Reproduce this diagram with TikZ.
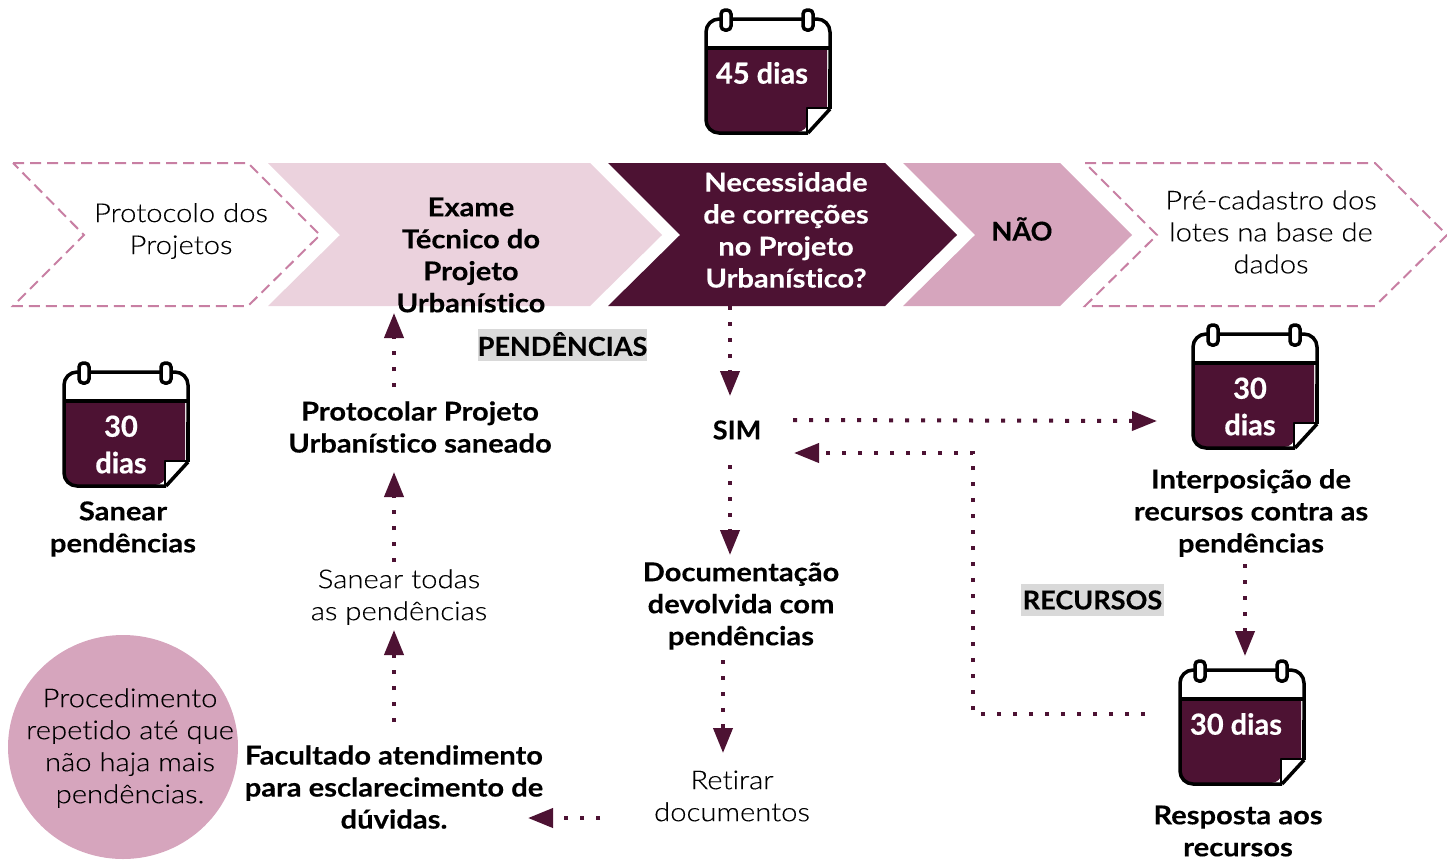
\documentclass[tikz,border=0pt]{standalone}
\usepackage{fontspec}
\setmainfont{Lato}[BoldFont={Lato Bold},BoldFeatures={FakeStretch=1.12,FakeBold=0.25},Ligatures=NoCommon]
\newfontfamily\lightf{Lato Light}[FakeStretch=1.125,FakeBold=0.2,Ligatures=NoCommon]
\newfontfamily\calf{Lato Bold}[FakeStretch=1.0,FakeBold=0.6]
\newfontfamily\tagf{Lato Bold}[FakeStretch=1.04,FakeBold=0.25]
\usetikzlibrary{arrows.meta}
\definecolor{wine}{HTML}{4D1233}
\definecolor{rosea}{HTML}{EBD2DD}
\definecolor{roseb}{HTML}{D6A5BD}
\definecolor{rosed}{HTML}{C87FA3}
\definecolor{lab}{HTML}{D9D9D9}
\tikzset{
  x=1pt,y=-1pt,
  btext/.style={align=center,inner sep=0pt,font=\fontsize{26}{32}\selectfont\bfseries,text=black},
  ltext/.style={align=center,inner sep=0pt,font=\fontsize{26}{32}\selectfont\lightf,text=black},
  tagtext/.style={align=center,inner sep=0pt,font=\fontsize{26}{32}\selectfont\tagf,text=black},
  caltext/.style={align=center,inner sep=0pt,font=\fontsize{29}{36.5}\selectfont\calf,text=white},
  chevdash/.style={draw=rosed,line width=2pt,dash pattern=on 11pt off 6pt,fill=white},
  conn/.style={draw=wine,line width=4pt,dash pattern=on 4pt off 12pt,-{Triangle[length=25pt,width=19pt,fill=wine]}},
  pics/calendar/.style={code={
    \fill[wine,rounded corners=11pt] (1,30) -- (1,113) -- (102,113) -- (102,100) [sharp corners] -- (121,90) -- (121,30) -- cycle;
    \draw[black,line width=3.5pt,line join=round,rounded corners=13pt] (102,114) -- (0,114) -- (0,0) -- (124,0) -- (124,60);
    \draw[black,line width=3.5pt] (124,50) -- (124,90);
    \fill[white] (124,90) -- (102,90) -- (102,114) -- cycle;
    \draw[black,line width=3.5pt,line join=round] (124,90) -- (102,114);
    \draw[black,line width=2.5pt,line join=round] (124,89) -- (101,89) -- (101,114);
    \draw[black,line width=3.5pt] (0,29) -- (124,29);
    \foreach \rx in {20,102}{
      \draw[black,line width=3.5pt,fill=white,rounded corners=4pt] (\rx-5,-9) rectangle (\rx+5,11);
    }
  }}
}
\begin{document}
\begin{tikzpicture}
\useasboundingbox (0,0) rectangle (1447,860);
% chevrons
\draw[chevdash] (13,163) -- (248,163) -- (320,235) -- (248,306) -- (13,306) -- (84,235) -- cycle;
\fill[rosea] (268,163) -- (590,163) -- (662,235) -- (590,306) -- (268,306) -- (340,235) -- cycle;
\fill[wine] (608,163) -- (885,163) -- (957,235) -- (885,306) -- (608,306) -- (680,235) -- cycle;
\fill[roseb] (903,163) -- (1060,163) -- (1132,235) -- (1060,306) -- (903,306) -- (975,235) -- cycle;
\draw[chevdash] (1085,163) -- (1375,163) -- (1447,235) -- (1375,306) -- (1085,306) -- (1157,235) -- cycle;
\node[ltext] (proto) at (181,231) {Protocolo dos\\Projetos};
\node[btext] (exame) at (471,255) {Exame\\Técnico do\\Projeto\\Urbanístico};
\node[btext,text=white] (nec) at (786,230) {Necessidade\\de correções\\no Projeto\\Urbanístico?};
\node[tagtext] (nao) at (1022,229) {NÃO};
\node[ltext] (pre) at (1271,232) {Pré-cadastro dos\\lotes na base de\\dados};
% calendars
\pic at (706,19) {calendar};
\pic at (64,372) {calendar};
\pic at (1193,334) {calendar};
\pic at (1180,670) {calendar};
\node[caltext] (c45) at (762,73) {45 dias};
\node[caltext] (c30a) at (121,444.5) {30\\dias};
\node[caltext] (c30b) at (1250,406.5) {30\\dias};
\node[caltext] (c30c) at (1236,724) {30 dias};
% labels
\node[btext] (san) at (123,529) {Sanear\\pendências};
\node[btext] (ptc) at (420,427) {Protocolar Projeto\\Urbanístico saneado};
\node[ltext] (sant) at (399,597) {Sanear todas\\as pendências};
\node[btext] (fac) at (394,787) {Facultado atendimento\\para esclarecimento de\\dúvidas.};
\node[tagtext] (sim) at (737,430) {SIM};
\node[btext] (doc) at (741,606) {Documentação\\devolvida com\\pendências};
\node[ltext] (ret) at (732,796) {Retirar\\documentos};
\node[btext] (int) at (1251,513) {Interposição de\\recursos contra as\\pendências};
\node[btext] (res) at (1238,831) {Resposta aos\\recursos};
\fill[lab] (478,329) rectangle (647,361);
\node[tagtext] (pend) at (562.5,344) {PENDÊNCIAS};
\fill[lab] (1021,584) rectangle (1164,616);
\node[tagtext] (rec) at (1092.5,600) {RECURSOS};
% circle
\fill[roseb] (123,747) ellipse [x radius=115,y radius=112];
\node[ltext] (proc) at (130,748) {Procedimento\\repetido até que\\não haja mais\\pendências.};
% connector ends
\coordinate (necS) at (730,306);
\coordinate (simN) at (730,396);
\coordinate (simE) at (793,420);
\coordinate (intW) at (1157,421);
\coordinate (simR) at (794,453);
\coordinate (bend) at (973,453);
\coordinate (bendb) at (973,714);
\coordinate (resW) at (1145,714);
\coordinate (simS) at (730,465);
\coordinate (docN) at (730,555);
\coordinate (docS) at (723,660);
\coordinate (retN) at (723,753);
\coordinate (retW) at (600,818);
\coordinate (facE) at (528,818);
\coordinate (facN) at (394,722);
\coordinate (santS) at (394,630);
\coordinate (santN) at (394,562);
\coordinate (ptcS) at (394,472);
\coordinate (ptcN) at (394,387);
\coordinate (exS) at (394,313);
\coordinate (intS) at (1245,564);
\coordinate (resN) at (1245,656);
\draw[conn] (necS) -- (simN);
\draw[conn] (simE) -- (intW);
\draw[conn] (resW) -- (bendb) -- (bend) -- (simR);
\draw[conn] (simS) -- (docN);
\draw[conn] (docS) -- (retN);
\draw[conn] (retW) -- (facE);
\draw[conn] (facN) -- (santS);
\draw[conn] (santN) -- (ptcS);
\draw[conn] (ptcN) -- (exS);
\draw[conn] (intS) -- (resN);
\end{tikzpicture}
\end{document}
